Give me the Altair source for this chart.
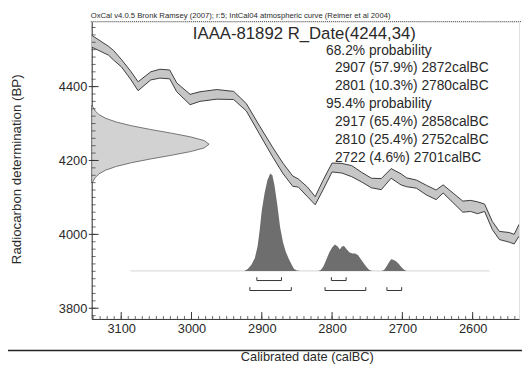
import altair as alt
import pandas as pd

# ---------------- data ----------------
# IntCal04 calibration curve: calendar year (calBC), BP centre, half-width (BP)
curve_year = [3142, 3118, 3111, 3100, 3087, 3076, 3058, 3045, 3031, 3021,
              3002, 2988, 2964, 2940, 2922, 2904, 2884, 2870, 2856, 2848,
              2835, 2824, 2813, 2800, 2786, 2772, 2758, 2744, 2730, 2716,
              2702, 2694, 2680, 2666, 2652, 2642, 2628, 2614, 2603, 2593,
              2583, 2572, 2562, 2548, 2541, 2534]
curve_bp = [4523, 4497, 4485, 4464, 4432, 4401, 4429, 4435, 4433, 4398,
            4365, 4373, 4379, 4376, 4344, 4285, 4221, 4179, 4144, 4139,
            4115, 4091, 4133, 4181, 4179, 4171, 4155, 4139, 4136, 4165,
            4149, 4141, 4136, 4120, 4107, 4123, 4099, 4075, 4077, 4072,
            4072, 4024, 3997, 3992, 3987, 4011]
curve_err = [16, 12, 13, 10, 11, 12, 11, 12, 12, 12,
             14, 13, 13, 11, 10, 11, 13, 14, 14, 11,
             13, 11, 13, 12, 13, 15, 13, 13, 15, 13,
             15, 12, 11, 13, 13, 11, 13, 15, 15, 16,
             10, 11, 11, 13, 13, 16]

# Radiocarbon date 4244 +/- 34 BP, relative density
rdate_bp = [4139, 4144, 4154, 4164, 4174, 4184, 4194, 4204, 4214, 4224, 4234, 4244,
            4254, 4264, 4274, 4284, 4294, 4304, 4314, 4324, 4334, 4344, 4349]
rdate_dens = [0, 0.013, 0.030, 0.063, 0.120, 0.211, 0.339, 0.500, 0.678, 0.841, 0.958, 1.0,
              0.958, 0.841, 0.678, 0.500, 0.339, 0.211, 0.120, 0.063, 0.030, 0.013, 0]

# Calibrated date distribution (relative probability)
cal_year = [3087, 2930, 2925, 2920, 2915, 2910, 2906, 2903, 2900, 2896,
            2892, 2888, 2885, 2882, 2878, 2874, 2870, 2866, 2862, 2858,
            2854, 2850, 2845, 2820, 2816, 2812, 2808, 2804, 2800, 2796,
            2792, 2789, 2786, 2783, 2779, 2775, 2771, 2767, 2763, 2759,
            2755, 2751, 2747, 2743, 2730, 2726, 2723, 2719, 2716, 2713,
            2709, 2705, 2701, 2697, 2694, 2576]
cal_prob = [0, 0, 0, 0.02, 0.06, 0.13, 0.25, 0.42, 0.62, 0.80,
            0.93, 1.00, 0.98, 0.88, 0.68, 0.45, 0.30, 0.20, 0.13, 0.07,
            0.02, 0.005, 0, 0, 0.01, 0.05, 0.12, 0.19, 0.24, 0.27,
            0.25, 0.22, 0.25, 0.255, 0.22, 0.19, 0.18, 0.18, 0.16, 0.12,
            0.08, 0.04, 0.01, 0, 0, 0.01, 0.04, 0.09, 0.12, 0.115,
            0.10, 0.07, 0.035, 0.01, 0, 0]

# probability ranges
range_from = [2907, 2801, 2917, 2810, 2722]
range_to = [2872, 2780, 2858, 2752, 2701]
range_level = ["68.2", "68.2", "95.4", "95.4", "95.4"]

prob_text = ["68.2% probability",
             "2907 (57.9%) 2872calBC",
             "2801 (10.3%) 2780calBC",
             "95.4% probability",
             "2917 (65.4%) 2858calBC",
             "2810 (25.4%) 2752calBC",
             "2722 (4.6%) 2701calBC"]
prob_indent = [0, 1, 1, 0, 1, 1, 1]

x_major = [3100, 3000, 2900, 2800, 2700, 2600]
y_major = [3800, 4000, 4200, 4400]

title_text = "IAAA-81892 R_Date(4244,34)"
subtitle_text = "OxCal v4.0.5 Bronk Ramsey (2007); r:5; IntCal04 atmospheric curve (Reimer et al 2004)"
x_title = "Calibrated date (calBC)"
y_title = "Radiocarbon determination (BP)"

# ---------------- layout constants ----------------
W, H = 434, 302
X_LEFT, X_RIGHT = 3142, 2534
Y_BOT, Y_TOP = 3771, 4576
CAL_BASE = 3901       # BP level of the calibrated distribution baseline
CAL_SCALE = 264       # BP height of the distribution peak
RDATE_SCALE = 167     # year width of the R_Date peak
LEVEL_Y = {"68.2": 3875, "95.4": 3848}
FONT = "Liberation Sans"
TXT = "#2a2a2a"

xs = alt.Scale(domain=[X_LEFT, X_RIGHT], nice=False, zero=False)
ys = alt.Scale(domain=[Y_BOT, Y_TOP], nice=False, zero=False)

curve = pd.DataFrame({"year": curve_year, "bp": curve_bp, "err": curve_err})
curve["lo"] = curve["bp"] - curve["err"]
curve["hi"] = curve["bp"] + curve["err"]

rdate = pd.DataFrame({"bp": rdate_bp, "d": rdate_dens})
rdate["x"] = X_LEFT - rdate["d"] * RDATE_SCALE
rdate["base"] = X_LEFT

cal = pd.DataFrame({"year": cal_year, "p": cal_prob})
cal["y"] = CAL_BASE + cal["p"] * CAL_SCALE
cal["base"] = CAL_BASE

ranges = pd.DataFrame({"a": range_from, "b": range_to, "lev": range_level})
ranges["y"] = ranges["lev"].map(LEVEL_Y)
ranges["y2"] = ranges["y"] + 9
rticks = pd.concat([
    ranges[["a", "y", "y2"]].rename(columns={"a": "x"}),
    ranges[["b", "y", "y2"]].rename(columns={"b": "x"}),
])

xt_minor = pd.DataFrame({"year": list(range(3140, 2530, -10))})
xt_major = pd.DataFrame({"year": x_major})
yt_minor = pd.DataFrame({"bp": list(range(3780, 4580, 20))})
yt_major = pd.DataFrame({"bp": y_major})
base_rule = pd.DataFrame({"a": [3087], "b": [2576], "y": [CAL_BASE]})
one = pd.DataFrame({"k": [0]})

x_axis = alt.Axis(values=x_major, format="d", ticks=False, tickSize=0, labelPadding=4,
                  domainColor="#333", domainWidth=1, labelFontSize=13, labelColor=TXT,
                  labelFont=FONT, title=None, grid=False, labelFlush=False, labelOverlap=False)
y_axis = alt.Axis(values=y_major, format="d", ticks=False, tickSize=0, labelPadding=5,
                  domainColor="#333", domainWidth=1, labelFontSize=13, labelColor=TXT,
                  labelFont=FONT, title=None, grid=False, labelFlush=False, labelOverlap=False)

band = alt.Chart(curve).mark_area(color="#c6c6c6", clip=True).encode(
    x=alt.X("year:Q", scale=xs, axis=x_axis),
    y=alt.Y("lo:Q", scale=ys, axis=y_axis),
    y2="hi:Q",
)
line_hi = alt.Chart(curve).mark_line(color="#3c3c3c", strokeWidth=1, clip=True).encode(
    x=alt.X("year:Q", scale=xs), y=alt.Y("hi:Q", scale=ys))
line_lo = alt.Chart(curve).mark_line(color="#3c3c3c", strokeWidth=1, clip=True).encode(
    x=alt.X("year:Q", scale=xs), y=alt.Y("lo:Q", scale=ys))

rd = alt.Chart(rdate).mark_area(orient="horizontal", fill="#d2d2d2", stroke="#555",
                                strokeWidth=0.8).encode(
    y=alt.Y("bp:Q", scale=ys), x=alt.X("x:Q", scale=xs), x2="base:Q")

baseline = alt.Chart(base_rule).mark_rule(color="#d4d4d4", strokeWidth=1).encode(
    x=alt.X("a:Q", scale=xs), x2="b:Q", y=alt.Y("y:Q", scale=ys))

cd = alt.Chart(cal).mark_area(color="#6e6e6e").encode(
    x=alt.X("year:Q", scale=xs), y=alt.Y("y:Q", scale=ys), y2="base:Q")

rng = alt.Chart(ranges).mark_rule(color="#333", strokeWidth=1).encode(
    x=alt.X("a:Q", scale=xs), x2="b:Q", y=alt.Y("y:Q", scale=ys))
rng_t = alt.Chart(rticks).mark_rule(color="#333", strokeWidth=1).encode(
    x=alt.X("x:Q", scale=xs), y=alt.Y("y:Q", scale=ys), y2="y2:Q")

xtm = alt.Chart(xt_minor).mark_rule(color="#444", strokeWidth=0.8).encode(
    x=alt.X("year:Q", scale=xs), y=alt.value(H), y2=alt.value(H - 3))
xtM = alt.Chart(xt_major).mark_rule(color="#333", strokeWidth=1).encode(
    x=alt.X("year:Q", scale=xs), y=alt.value(H), y2=alt.value(H - 7))
ytm = alt.Chart(yt_minor).mark_rule(color="#444", strokeWidth=0.8).encode(
    y=alt.Y("bp:Q", scale=ys), x=alt.value(0), x2=alt.value(4))
ytM = alt.Chart(yt_major).mark_rule(color="#333", strokeWidth=1).encode(
    y=alt.Y("bp:Q", scale=ys), x=alt.value(-3), x2=alt.value(7))

top_line = alt.Chart(one).mark_rule(color="#555", strokeWidth=1, strokeDash=[1, 1]).encode(
    x=alt.value(-1), x2=alt.value(W + 3), y=alt.value(0))
page_line = alt.Chart(one).mark_rule(color="#222", strokeWidth=1.5).encode(
    x=alt.value(-85), x2=alt.value(W + 3), y=alt.value(334))


def text(t, x, y, size, align="left", angle=0, color=TXT):
    kw = dict(text=t, fontSize=size, font=FONT, color=color, align=align, baseline="middle")
    if angle:
        kw["angle"] = angle
    return alt.Chart(one).mark_text(**kw).encode(x=alt.value(x), y=alt.value(y))


texts = [
    text(subtitle_text, -1, -6, 7.8),
    text(title_text, 216, 13, 17, align="center"),
    text(x_title, 219, 341, 13, align="center"),
    text(y_title, -76, 150, 13.5, align="center", angle=270),
]
for i, (t, ind) in enumerate(zip(prob_text, prob_indent)):
    texts.append(text(t, 238 + ind * 9, 29.5 + i * 18.2, 14))

chart = alt.layer(
    band, line_hi, line_lo, rd, baseline, cd, rng, rng_t,
    xtm, xtM, ytm, ytM, top_line, page_line, *texts
).properties(
    width=W, height=H,
    padding={"left": 85, "top": 11, "right": 3, "bottom": 46},
    autosize=alt.AutoSizeParams(type="none"),
).configure_view(stroke=None).configure(background="white")

chart.save("out.html", embed_options={"renderer": "svg", "actions": False})
